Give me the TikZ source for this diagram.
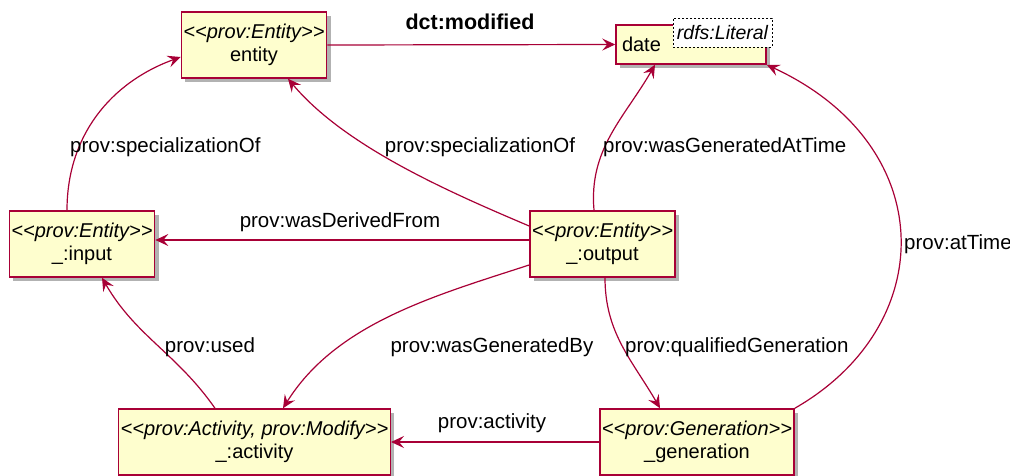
\documentclass[tikz,border=0pt]{standalone}
\usepackage{fontspec}
\setmainfont{Liberation Sans}
\usetikzlibrary{arrows.meta,shadows}
\definecolor{umlred}{HTML}{A80036}
\definecolor{umlfill}{HTML}{FEFECE}
\newcommand{\stereo}[1]{\textit{<\kern0pt<#1>\kern0pt>}}
\tikzset{
  cls/.style={draw=umlred, fill=umlfill, line width=1.5pt, minimum height=66pt, inner sep=2pt, align=center,
    font=\fontsize{20}{23}\selectfont, drop shadow={shadow xshift=4pt, shadow yshift=-4pt, opacity=0.3, fill=black}},
  lbl/.style={font=\fontsize{20.5}{23}\selectfont, inner sep=0pt},
  rel/.style={->, draw=umlred, line width=1.2pt},
}
\begin{document}
\begin{tikzpicture}[>={Stealth[length=13pt,width=12pt,inset=5pt]},x=1pt,y=1pt]
		\useasboundingbox (0,0) rectangle (1010,475);
		\node[cls, minimum width=142pt] (entity) at (254,430) {\stereo{prov:Entity}\\entity};
		\node[cls, minimum width=150pt, minimum height=39pt, text width=138pt, align=left] (date) at (691,430.5) {date};
		\node[draw, dash pattern=on 2pt off 2pt, line width=0.8pt, fill=white, minimum width=99pt, minimum height=29pt, inner sep=1pt, font=\fontsize{19.5}{22}\selectfont\itshape] (literal) at (722.5,442.5) {rdfs:Literal};
		\node[cls, minimum width=144pt] (input) at (82,231) {\stereo{prov:Entity}\\\_:input};
		\node[cls, minimum width=143pt] (output) at (602.5,231) {\stereo{prov:Entity}\\\_:output};
		\node[cls, minimum width=269pt] (activity) at (254.5,33) {\stereo{prov:Activity, prov:Modify}\\\_:activity};
		\node[cls, minimum width=194pt] (generation) at (697,33) {\stereo{prov:Generation}\\\_generation};
		\draw[rel] (entity.east) -- (date.west);
		\draw[rel] ([yshift=18pt]output.west) to[out=157,in=-50,looseness=0.8] ([xshift=34pt]entity.south);
		\draw[rel] ([xshift=-8.5pt]output.north) to[out=95,in=-120] ([xshift=-36pt]date.south);
		\draw[rel] ([xshift=-15pt]input.north) to[out=90,in=200] ([yshift=-12pt]entity.west);
		\draw[rel] ([yshift=4pt]output.west) -- ([yshift=4pt]input.east);
		\draw[rel] ([yshift=-21pt]output.west) to[out=198,in=58,looseness=0.9] ([xshift=28.5pt]activity.north);
		\draw[rel] ([xshift=-39.5pt]activity.north) to[out=125,in=-60] ([xshift=20pt]input.south);
		\draw[rel] ([xshift=2.5pt]output.south) to[out=-90,in=120] ([xshift=-37pt]generation.north);
		\draw[rel] (generation.west) -- (activity.east);
		\draw[rel] (generation.north east) .. controls (940,150) and (940,330) .. (date.south east);
		\node[lbl, font=\fontsize{21.5}{23}\selectfont\bfseries] (lmod) at (470,453) {dct:modified};
		\node[lbl, anchor=west] (lspec1) at (70,328) {prov:specializationOf};
		\node[lbl] (lspec2) at (480,328) {prov:specializationOf};
		\node[lbl, anchor=west] (lgat) at (603,328) {prov:wasGeneratedAtTime};
		\node[lbl] (lder) at (340,253) {prov:wasDerivedFrom};
		\node[lbl, anchor=west] (ltime) at (904,231) {prov:atTime};
		\node[lbl] (lused) at (210,128) {prov:used};
		\node[lbl] (lgby) at (492,128) {prov:wasGeneratedBy};
		\node[lbl, anchor=west] (lqual) at (625,128) {prov:qualifiedGeneration};
		\node[lbl] (lact) at (492,52) {prov:activity};
	\end{tikzpicture}
\end{document}
